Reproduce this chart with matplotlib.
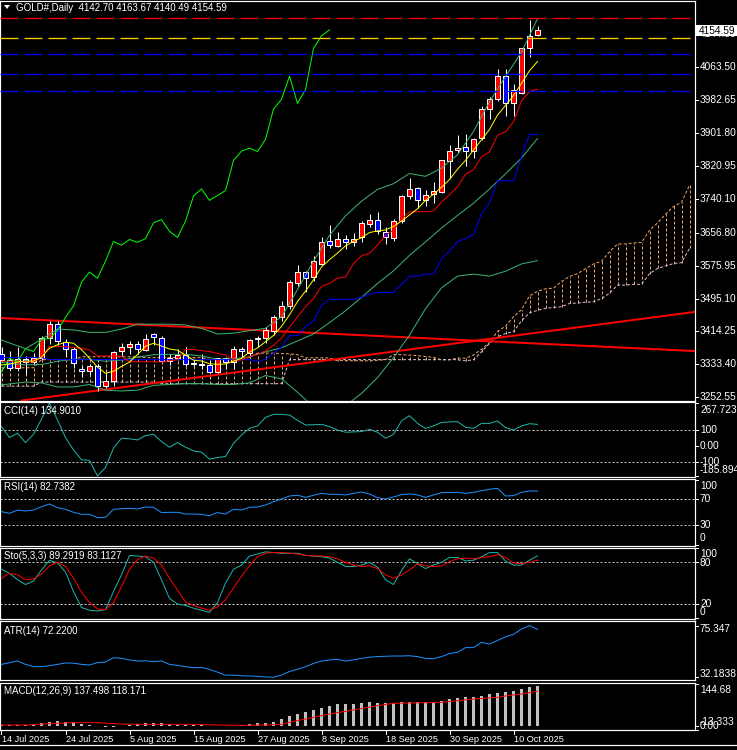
import matplotlib
matplotlib.use("Agg")
import matplotlib.pyplot as plt
import matplotlib.transforms as mtransforms
from matplotlib.patches import Rectangle, Polygon
import numpy as np

plt.rcParams['font.family'] = ['Liberation Sans', 'DejaVu Sans']
plt.rcParams['lines.scale_dashes'] = False

W, H, DPI = 737, 750, 100
PX = 72 / DPI          # one pixel in points
PLOT_W = 695           # width of the plotting area, px

# ---------------- data ----------------
title = "GOLD#,Daily  4142.70 4163.67 4140.49 4154.59"
date_labels = ["14 Jul 2025", "24 Jul 2025", "5 Aug 2025", "15 Aug 2025", "27 Aug 2025",
               "8 Sep 2025", "18 Sep 2025", "30 Sep 2025", "10 Oct 2025"]
date_bars = [0, 8, 16, 24, 32, 40, 48, 56, 64]

opens = [3358, 3344, 3325, 3347, 3339, 3350, 3397, 3432, 3388, 3370,
         3321, 3317, 3329, 3280, 3293, 3366, 3375, 3384, 3368, 3407,
         3397, 3342, 3348, 3356, 3335, 3334, 3332, 3315, 3349, 3340,
         3370, 3362, 3395, 3397, 3416, 3449, 3477, 3533, 3561, 3547,
         3581, 3636, 3624, 3642, 3633, 3645, 3679, 3689, 3659, 3643,
         3685, 3746, 3766, 3736, 3751, 3756, 3833, 3859, 3866, 3856,
         3889, 3960, 3984, 4041, 3974, 4000, 4109, 4142.70]
highs = [3375, 3366, 3377, 3353, 3361, 3402, 3440, 3439, 3395, 3375,
         3330, 3334, 3334, 3315, 3365, 3385, 3391, 3390, 3408, 3410,
         3404, 3358, 3370, 3375, 3345, 3358, 3345, 3350, 3352, 3378,
         3376, 3395, 3403, 3424, 3454, 3490, 3540, 3578, 3563, 3600,
         3646, 3675, 3658, 3652, 3655, 3685, 3702, 3708, 3670, 3690,
         3750, 3790, 3768, 3762, 3782, 3835, 3872, 3896, 3898, 3889,
         3967, 3990, 4058, 4058, 4021, 4109, 4179, 4163.67]
lows = [3340, 3320, 3319, 3310, 3332, 3345, 3383, 3381, 3351, 3325,
        3302, 3308, 3268, 3275, 3280, 3354, 3358, 3358, 3366, 3380,
        3340, 3331, 3345, 3330, 3330, 3323, 3312, 3311, 3323, 3321,
        3351, 3351, 3375, 3386, 3405, 3440, 3470, 3525, 3511, 3538,
        3578, 3620, 3621, 3617, 3625, 3634, 3671, 3654, 3628, 3636,
        3680, 3740, 3717, 3722, 3730, 3755, 3792, 3852, 3821, 3840,
        3885, 3935, 3980, 3943, 3944, 3996, 4089, 4140.49]
closes = [3344, 3325, 3347, 3339, 3350, 3397, 3432, 3390, 3370, 3337,
          3318, 3329, 3280, 3293, 3363, 3376, 3384, 3371, 3395, 3400,
          3342, 3348, 3356, 3335, 3337, 3332, 3315, 3348, 3340, 3372,
          3365, 3394, 3397, 3417, 3449, 3477, 3535, 3560, 3545, 3587,
          3635, 3626, 3640, 3633, 3642, 3681, 3689, 3660, 3645, 3685,
          3747, 3764, 3736, 3748, 3760, 3834, 3857, 3864, 3856, 3886,
          3960, 3984, 4041, 3974, 4008, 4109, 4140, 4154.59]

ma_yellow = [3332, 3334, 3339, 3342, 3341, 3351.6, 3373, 3381.6, 3387.8, 3385.2,
             3369.4, 3348.8, 3326.8, 3311.4, 3316.6, 3328.2, 3339.2, 3357.4, 3377.8, 3385.2,
             3378.4, 3371.2, 3368.2, 3356.2, 3343.6, 3341.6, 3335, 3333.4, 3334.4, 3341.4,
             3348, 3363.8, 3373.6, 3389, 3404.4, 3426.8, 3455, 3487.6, 3513.2, 3540.8,
             3572.4, 3590.6, 3606.6, 3624.2, 3635.2, 3644.4, 3657, 3661, 3663.4, 3672,
             3685.2, 3700.2, 3715.4, 3736, 3751, 3768.4, 3787, 3812.6, 3834.2, 3859.4,
             3884.6, 3910, 3945.4, 3969, 3993.4, 4023.2, 4054.4, 4077]

bb_x = [0, 3, 5, 7, 9, 11, 13, 15, 17, 19, 21, 23, 25, 27, 29, 31, 33, 35, 37, 39,
        41, 43, 45, 47, 49, 51, 53, 55, 57, 59, 61, 63, 65, 67]
bb_mid = [3338, 3332, 3333, 3341, 3346, 3346, 3341, 3344, 3351, 3357, 3358, 3358, 3354, 3346,
          3347, 3352, 3364, 3374, 3391, 3408, 3436, 3465, 3498, 3532, 3563, 3601, 3634, 3668,
          3699, 3729, 3764, 3801, 3840, 3888]
bb_up = [3393, 3372, 3395, 3420, 3418, 3412, 3412, 3420, 3432, 3432, 3432, 3430, 3422, 3408,
         3410, 3416, 3422, 3450, 3517, 3587, 3650, 3698, 3734, 3763, 3777, 3802, 3795, 3815,
         3848, 3905, 3978, 4040, 4100, 4182]
bb_low = [3283, 3290, 3288, 3278, 3278, 3284, 3270, 3268, 3270, 3282, 3284, 3286, 3286, 3284,
          3284, 3288, 3306, 3298, 3265, 3229, 3222, 3232, 3262, 3301, 3350, 3405, 3470, 3521,
          3550, 3555, 3550, 3562, 3580, 3588]

tenkan = [3341, 3341, 3341, 3340, 3339, 3352, 3377, 3377, 3377, 3375,
          3373, 3369, 3354, 3354, 3354, 3353, 3340, 3340, 3340, 3340,
          3339, 3342, 3345, 3370, 3370, 3367, 3365, 3360, 3357, 3344,
          3344, 3353, 3357, 3367, 3380, 3398, 3425, 3450, 3475, 3495,
          3525, 3532, 3545, 3548, 3581, 3600, 3606, 3626, 3650, 3663,
          3690, 3708, 3708, 3708, 3710, 3732, 3750, 3769, 3800, 3812,
          3843, 3855, 3896, 3904, 3929, 3980, 4004, 4009]
kijun = [3350, 3350, 3350, 3350, 3350, 3350, 3345, 3345, 3345, 3345,
         3345, 3345, 3345, 3345, 3345, 3345, 3345, 3345, 3345, 3345,
         3345, 3345, 3345, 3345, 3345, 3345, 3345, 3345, 3345, 3345,
         3345, 3345, 3340, 3346, 3361, 3375, 3404, 3404, 3426, 3440,
         3478, 3493, 3493, 3493, 3493, 3498, 3506, 3510, 3510, 3510,
         3530, 3550, 3550, 3555, 3555, 3593, 3611, 3635, 3642, 3651,
         3703, 3730, 3784, 3784, 3784, 3843, 3898, 3898]

# senkou spans, already shifted 26 bars ahead (bars 0..86)
span_a = [3325, 3325, 3325, 3325, 3325, 3345, 3345, 3345, 3345, 3345,
          3352, 3352, 3352, 3352, 3352, 3352, 3352, 3352, 3350, 3350,
          3350, 3350, 3350, 3350, 3350, 3350, 3345.5, 3345.5, 3345.5, 3345,
          3344.5, 3351, 3361, 3361, 3361, 3360, 3359, 3357, 3349.5, 3349.5,
          3349.5, 3349, 3342.5, 3342.5, 3342.5, 3342.5, 3342, 3343.5, 3345, 3357.5,
          3357.5, 3356, 3355, 3352.5, 3351, 3344.5, 3344.5, 3349, 3348.5, 3356.5,
          3370.5, 3386.5, 3414.5, 3427, 3450.5, 3467.5, 3501.5, 3512.5, 3519, 3520.5,
          3537, 3549, 3556, 3568, 3580, 3586.5, 3610, 3629, 3629, 3631.5,
          3632.5, 3662.5, 3680.5, 3702, 3721, 3731.5, 3773]
span_b = [3280, 3280, 3280, 3280, 3280, 3290, 3290, 3290, 3290, 3290,
          3290, 3290, 3290, 3290, 3290, 3290, 3290, 3290, 3290, 3290,
          3286, 3286, 3286, 3286, 3286, 3286, 3286, 3286, 3286, 3286,
          3286, 3286, 3286, 3286, 3286, 3286, 3345, 3345, 3345, 3345,
          3345, 3345, 3345, 3345, 3345, 3345, 3345, 3345, 3345, 3345,
          3345, 3345, 3345, 3345, 3345, 3345, 3345, 3345, 3342, 3345,
          3364, 3385, 3401, 3409, 3414, 3440, 3460, 3466, 3471, 3473,
          3475, 3483, 3484, 3486, 3487, 3495, 3508, 3528, 3528, 3530,
          3530, 3556, 3569, 3575, 3581, 3583, 3618]

levels = [4183, 4135.4, 4095.4, 4045.5, 4004.5]
level_colors = ['#FF0000', '#FFD000', '#0000FF', '#0000FF', '#0000FF']

trend_down = ([0, 86], [3447.1, 3366.7])
trend_up = ([4, 86], [3248.5, 3460.5])

price_ticks = [4144.35, 4063.50, 3982.65, 3901.80, 3820.95, 3740.10, 3656.80,
               3575.95, 3495.10, 3414.25, 3333.40, 3252.55]
last_price = 4154.59

cci = [121, 53, 80, 22, 73, 168, 267.72, 162, 53, -24,
       -85, -89, -185.89, -133, -13, 49, 45, 38, 65, 73,
       28, -7, 22, -7, -30, -38, -81, -71, -65, 17,
       69, 110, 125, 178, 197, 197, 193, 160, 131, 133,
       135, 121, 100, 86, 88, 90, 104, 86, 49, 73,
       156, 189, 141, 110, 125, 147, 150, 152, 117, 110,
       141, 141, 156, 115, 100, 125, 139, 134.9]
rsi = [51, 48.4, 53.5, 52, 53.5, 58.7, 62.8, 57, 54.6, 50,
       46.9, 46.9, 41.7, 42.3, 54.6, 55.6, 56.1, 55.1, 58.2, 57.7,
       49.5, 50, 50, 47.4, 47.4, 46.9, 44.8, 49.5, 47.4, 54.6,
       53.5, 57.7, 58.2, 61.2, 66.3, 70.5, 75.1, 76.2, 73, 76.2,
       79.2, 77.7, 77.7, 76.7, 79.2, 81.2, 78.2, 72.5, 70.5, 73.6,
       77.2, 78.2, 76.7, 73, 76.7, 80.2, 80.5, 80.7, 79.2, 80.7,
       83.3, 85.4, 86.9, 75.1, 75.6, 80.7, 82.8, 82.74]
sto_k = [70, 64, 55, 48, 53, 69, 83, 79, 66, 38,
         15, 11, 10, 12, 38, 62, 90, 89, 88, 80,
         55, 28, 20, 18, 14, 11, 8, 22, 50, 70,
         76, 89, 92, 95, 94, 93, 93, 93, 90, 89,
         88, 86, 80, 74, 74, 76, 80, 73, 55, 48,
         68, 85, 78, 71, 76, 80, 87, 87, 82, 83,
         88, 94, 94, 82, 76, 76, 83, 89.29]
sto_d = [57, 64, 62, 55, 56, 63, 75, 80, 74, 57,
         37, 22, 13, 12, 22, 45, 70, 84, 89, 86,
         76, 57, 40, 23, 18, 14, 11, 16, 26, 43,
         60, 75, 88, 93, 94, 94, 93, 92, 90, 89,
         89, 88, 85, 80, 76, 74, 75, 71, 62, 57,
         62, 69, 78, 75, 74, 75, 81, 85, 86, 85,
         87, 88, 91, 87, 79, 78, 80, 83.11]
atr = [43, 44.4, 45.8, 43, 41.1, 41.1, 41.9, 43, 44.2, 44,
       43, 42.5, 44.5, 45, 48.6, 48.1, 46.7, 45.8, 46, 45.3,
       45.8, 43, 42.2, 41, 40.3, 40.5, 38.8, 36.5, 34, 34,
       33.5, 33.3, 33, 32.5, 32.18, 34.1, 37, 38.9, 41, 43.8,
       45.8, 46.7, 47.2, 45.8, 46.8, 48, 49, 49.5, 49.8, 50,
       50, 50.2, 49.5, 48, 47.8, 49.5, 52, 53.1, 57, 57,
       61.4, 60, 63, 66, 68.1, 72.5, 75.35, 72.22]
macd = [1, 2, 2.4, 2.4, 2.4, 10.4, 13.9, 16.2, 13.9, 11.6,
        7, 2.4, -2.2, -6, -5, -2.2, 2.4, 5.8, 8.1, 8.1,
        8.1, 4.7, 2.4, 2.4, 2.4, 2.4, 0.1, -1, -1, -1,
        2.4, 4.7, 8.1, 10.4, 13.9, 23, 34.5, 40.2, 46, 54,
        59.7, 68.9, 73.5, 74.6, 75.7, 78, 80.3, 79.2, 76.9, 79.2,
        80.3, 82.6, 82.6, 82.6, 82.6, 84.9, 90.6, 94.1, 97.5, 99.8,
        102.1, 110.1, 113.5, 117, 119.3, 126.2, 133, 137.5]
sig_x = [0, 3, 6, 9, 12, 15, 18, 21, 24, 27, 30, 33, 35, 36, 38, 41, 44, 47, 49, 53,
         55, 57, 59, 62, 63, 65, 67]
sig_v = [2.4, 2.4, 7, 10.4, 10.4, 5.8, 4.7, 4.7, 4.7, 2.4, 1.2, 2.4, 4.7, 11.6, 23, 40.2,
         54, 68.9, 76.9, 79.2, 80.3, 86, 91.7, 97.5, 102.1, 109, 118.17]

# ---------------- figure ----------------
XL = (-1.5 / 8, (PLOT_W - 1.5) / 8)
LABEL_FS = 7.3
fig = plt.figure(figsize=(W / DPI, H / DPI), dpi=DPI, facecolor='black')


def fx(x):
    return x / W


def fy(y):
    return 1 - y / H


def panel(top, bottom, ylim):
    ax = fig.add_axes([0, 1 - bottom / H, PLOT_W / W, (bottom - top) / H])
    ax.set_facecolor('black')
    ax.set_xlim(XL)
    ax.set_ylim(ylim)
    ax.set_xticks([])
    ax.set_yticks([])
    for s in ax.spines.values():
        s.set_color('white')
        s.set_linewidth(PX * 1.2)
    return ax


def rlabel(ax, val, txt, dy=0):
    tr = mtransforms.blended_transform_factory(ax.transAxes, ax.transData)
    ax.plot([1.0, 1.0 + 3 / PLOT_W], [val, val], transform=tr, color='white',
            lw=PX, clip_on=False)
    t = mtransforms.offset_copy(tr, fig=fig, x=5 * PX, y=-dy * PX, units='points')
    ax.text(1.0, val, txt, transform=t, color='white', fontsize=LABEL_FS,
            ha='left', va='center', clip_on=False)


def dotted_level(ax, v):
    ax.axhline(v, color='#C8C8C8', lw=PX, linestyle=(0, (2 * PX, 2 * PX)))


n = len(closes)
x = np.arange(n)
o, h, l, c = map(np.array, (opens, highs, lows, closes))

# ---- main price panel ----
ax = panel(0.5, 400.5, (3244.7, 4226.7))

# ichimoku cloud
xs = np.arange(len(span_a))
sa, sb = np.array(span_a), np.array(span_b)
cols = np.where(sa >= sb, '#F4A460', '#D8BFD8')
ax.vlines(xs, np.minimum(sa, sb), np.maximum(sa, sb), colors=cols, lw=PX,
          linestyles=[(0, (3 * PX, 2 * PX))], zorder=1)
ax.plot(xs, sa, color='#F4A460', lw=PX, ls=(0, (3 * PX, 2 * PX)), zorder=1)
ax.plot(xs, sb, color='#D8BFD8', lw=PX, ls=(0, (3 * PX, 2 * PX)), zorder=1)

# trend lines
ax.axline((trend_down[0][0], trend_down[1][0]), (trend_down[0][1], trend_down[1][1]),
          color='#FF0000', lw=2 * PX, zorder=2)
ax.axline((trend_up[0][0], trend_up[1][0]), (trend_up[0][1], trend_up[1][1]),
          color='#FF0000', lw=2 * PX, zorder=2)

# candles
up = c >= o
ax.vlines(x, l, h, color='white', lw=PX, zorder=3)
body = np.maximum(np.abs(c - o), 0.3)
ax.bar(x, body, bottom=np.minimum(o, c), width=0.55,
       color=np.where(up, '#FF0000', '#0000FF'), edgecolor='white', lw=PX, zorder=4)

# indicator lines
ax.plot(bb_x, bb_up, color='#3CB371', lw=PX, zorder=5)
ax.plot(bb_x, bb_mid, color='#3CB371', lw=PX, zorder=5)
ax.plot(bb_x, bb_low, color='#3CB371', lw=PX, zorder=5)
ax.plot(x, kijun, color='#0000FF', lw=PX, zorder=5)
ax.plot(x, tenkan, color='#FF0000', lw=PX, zorder=5)
ax.plot(x, ma_yellow, color='#FFFF00', lw=PX, zorder=6)
ax.plot(x[:n - 26], c[26:], color='#00FF00', lw=PX, zorder=6)   # chikou span

for v, col in zip(levels, level_colors):
    ax.axhline(v, color=col, lw=1.3 * PX, ls=(0, (18 * PX, 6 * PX)), zorder=7)

for v in price_ticks:
    rlabel(ax, v, f"{v:.2f}")

# current price box
fig.add_artist(Rectangle((fx(696), fy(36)), 41 / W, 10.5 / H, transform=fig.transFigure,
                         facecolor='white', edgecolor='none'))
fig.text(fx(699), fy(30.5), f"{last_price:.2f}", color='black', fontsize=LABEL_FS,
         ha='left', va='center')

fig.add_artist(Polygon([(fx(4), fy(5)), (fx(10), fy(5)), (fx(7), fy(9))],
                       closed=True, transform=fig.transFigure, facecolor='white',
                       edgecolor='none'))
fig.text(fx(16), fy(8), title, color='white', fontsize=7.0, ha='left', va='center')

# ---- CCI ----
ax = panel(402.5, 476.5, (-189.0, 270.8))
dotted_level(ax, 100)
dotted_level(ax, -100)
ax.plot(x, cci, color='#20B2AA', lw=PX)
rlabel(ax, 267.72, "267.7233", dy=7)
rlabel(ax, 100, "100")
rlabel(ax, 0, "0.00")
rlabel(ax, -100, "-100")
rlabel(ax, -185.89, "-185.8945", dy=-6)
fig.text(fx(4), fy(411), "CCI(14) 134.9010", color='white', fontsize=7.0, va='center')

# ---- RSI ----
ax = panel(478.5, 545.5, (-1.08, 102))
dotted_level(ax, 70)
dotted_level(ax, 30)
ax.plot(x, rsi, color='#1E90FF', lw=PX)
rlabel(ax, 100, "100", dy=6)
rlabel(ax, 70, "70")
rlabel(ax, 30, "30")
rlabel(ax, 0, "0", dy=-6.5)
fig.text(fx(4), fy(487.5), "RSI(14) 82.7382", color='white', fontsize=7.0, va='center')

# ---- Stochastic ----
ax = panel(547.5, 619, (-1.58, 101.3))
dotted_level(ax, 80)
dotted_level(ax, 20)
ax.plot(x, sto_k, color='#20B2AA', lw=PX)
ax.plot(x, sto_d, color='#FF0000', lw=PX)
rlabel(ax, 100, "100", dy=6)
rlabel(ax, 80, "80", dy=1)
rlabel(ax, 20, "20")
rlabel(ax, 0, "0", dy=-6)
fig.text(fx(4), fy(556), "Sto(5,3,3) 89.2919 83.1127", color='white', fontsize=7.0,
         va='center')

# ---- ATR ----
ax = panel(621, 680, (29.95, 79.25))
ax.plot(x, atr, color='#1E90FF', lw=PX)
rlabel(ax, 75.347, "75.347", dy=3.3)
rlabel(ax, 32.1838, "32.1838", dy=-3.6)
fig.text(fx(4), fy(630.5), "ATR(14) 72.2200", color='white', fontsize=7.0, va='center')

# ---- MACD ----
ax = panel(682.5, 730, (-14.8, 148.5))
ax.bar(x, macd, width=0.42, color='#C0C0C0', lw=0)
ax.plot(sig_x, sig_v, color='#FF0000', lw=PX)
rlabel(ax, 144.68, "144.68", dy=6)
rlabel(ax, -13.333, "-13.333", dy=-7.3)
rlabel(ax, 0, "0.00", dy=0.6)
fig.text(fx(4), fy(691.5), "MACD(12,26,9) 137.498 118.171", color='white', fontsize=7.0,
         va='center')

# ---- time axis ----
for b, lab in zip(date_bars, date_labels):
    px = 8 * b + 1.5
    fig.add_artist(plt.Line2D([fx(px), fx(px)], [fy(731), fy(734)], color='white',
                              lw=PX, transform=fig.transFigure))
    fig.text(fx(px + 0.5), fy(739), lab, color='white', fontsize=6.6,
             ha='left', va='center')
fig.add_artist(plt.Line2D([0, 1], [fy(745), fy(745)], color='white', lw=PX * 1.2,
                          transform=fig.transFigure))

fig.savefig("out.png", dpi=DPI, facecolor='black')
